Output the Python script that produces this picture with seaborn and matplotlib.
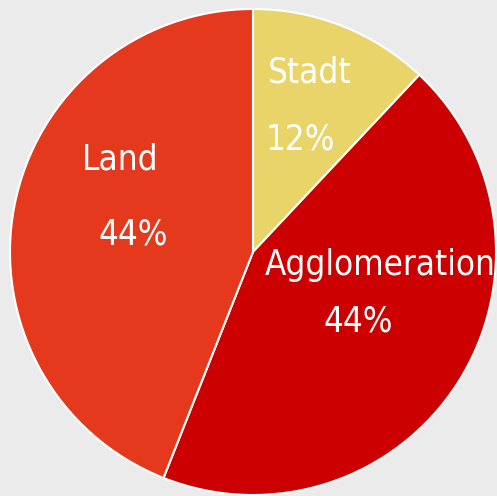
import matplotlib
matplotlib.use("Agg")
import matplotlib.pyplot as plt
import seaborn as sns
from matplotlib import font_manager

labels = ["Stadt", "Agglomeration", "Land"]
shares = [12, 44, 44]
colors = ["#e8d468", "#cc0000", "#e5391e"]

sns.set_style("white")
plt.rcParams["font.family"] = ["DejaVu Sans"]
print(sorted({(f.name, f.stretch) for f in font_manager.fontManager.ttflist if "Narrow" in f.name or "Cond" in f.name or f.stretch != "normal"}))

fig = plt.figure(figsize=(4.97, 4.96), dpi=100, facecolor="#ebebeb")
ax = fig.add_axes([10 / 497, 1 / 496, 486 / 497, 486 / 496])
ax.set_facecolor("#ebebeb")

ax.pie(
    shares,
    colors=colors,
    startangle=90,
    counterclock=False,
    radius=1,
    wedgeprops=dict(edgecolor="white", linewidth=1.5),
)

# label positions (name, percentage) in data coords
name_pos = [(0.235, 0.737), (0.523, -0.053), (-0.547, 0.379)]
pct_pos = [(0.193, 0.461), (0.432, -0.288), (-0.494, 0.070)]

for lab, val, npos, ppos in zip(labels, shares, name_pos, pct_pos):
    ax.text(*npos, lab, color="white", fontsize=25, ha="center", va="center",
            fontstretch="condensed", fontweight="light")
    ax.text(*ppos, f"{val}%", color="white", fontsize=25, ha="center", va="center",
            fontstretch="condensed", fontweight="light")

ax.set_xlim(-1, 1)
ax.set_ylim(-1, 1)
ax.set_aspect("equal")
ax.axis("off")

fig.savefig("out.png", dpi=100, facecolor=fig.get_facecolor())
